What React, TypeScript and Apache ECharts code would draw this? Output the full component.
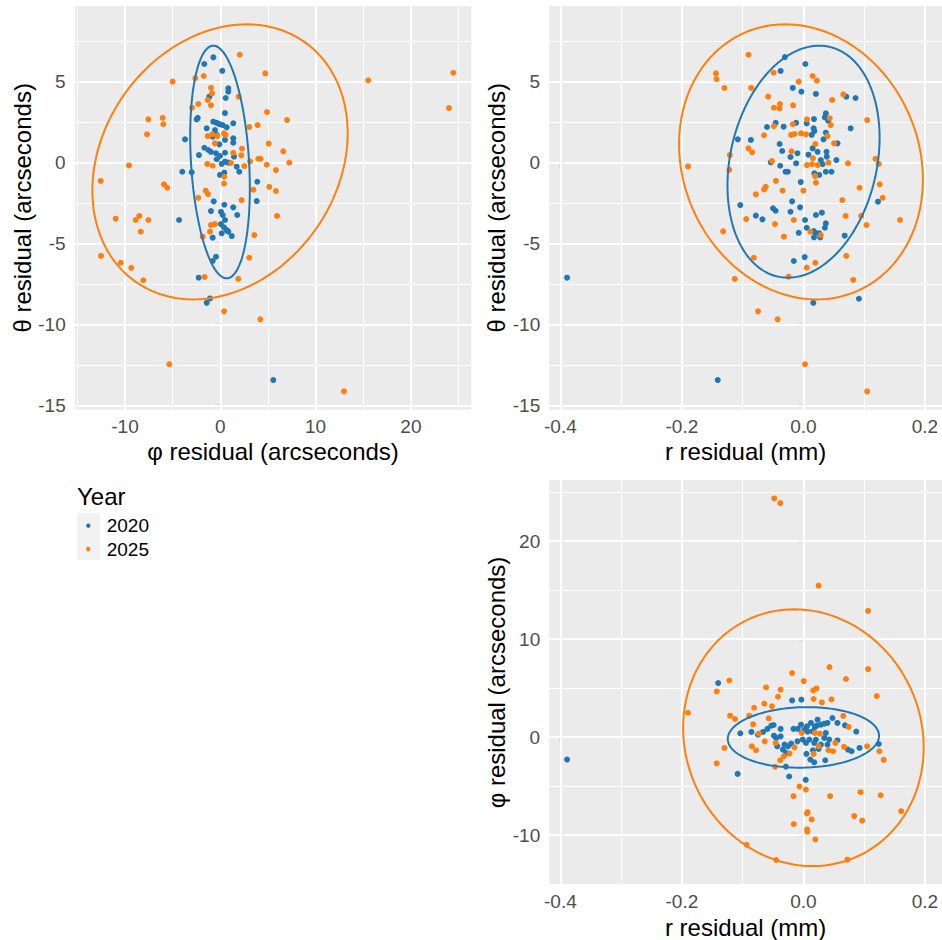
import React, { useEffect, useRef } from "react";
import * as echarts from "echarts";

// ---------- data ----------
// Panel A: x = φ residual (arcsec), y = θ residual (arcsec)
const phiTheta2020: [number, number][] = [
  [-0.73, 6.48], [-1.68, 6.07], [0.21, 5.65], [0.84, 4.57], [0.84, 4.36], [0.56, 3.97], [-1.15, 4.05],
  [0.49, 3.04], [-2.37, 2.75], [-2.48, 2.65], [-0.73, 2.51], [-0.38, 2.44], [-0.1, 2.36], [0.25, 2.3],
  [1.36, 2.41], [-1.43, 2.1], [-0.56, 1.99], [0.67, 2.16], [-0.8, 1.58], [-0.38, 1.69], [0.49, 1.38],
  [1.36, 1.48], [1.36, 1.21], [-0.1, 1.11], [-3.7, 1.42], [-1.68, 0.9], [-1.26, 0.76], [-0.98, 0.65],
  [-0.45, 0.56], [-0.03, 0.39], [0.49, 0.59], [1.44, 0.35], [0.84, -0.02], [-2.24, 0.45], [-0.38, 0.19],
  [0.15, -0.1], [0.49, 0.04], [1.72, -0.27], [1.99, -0.58], [-3.99, -0.58], [-3.0, -0.62], [-0.03, -0.78],
  [0.42, -0.64], [3.88, -1.2], [3.82, -2.39], [-0.69, -2.41], [0.42, -2.62], [1.36, -2.78], [-0.98, -3.01],
  [0.07, -3.05], [0.25, -3.25], [0.49, -3.56], [1.78, -3.25], [-4.33, -3.56], [0.07, -3.81], [0.39, -4.01],
  [0.67, -4.18], [0.15, -4.38], [0.84, -4.28], [1.2, -4.55], [-0.8, -4.65], [-0.45, -5.83], [-0.8, -6.09],
  [-2.27, -7.12], [-1.08, -8.4], [-1.43, -8.67], [5.56, -13.44],
];
const phiTheta2025: [number, number][] = [
  [2.04, 6.64], [4.72, 5.49], [-5.0, 4.98], [-2.62, 5.19], [-1.74, 5.33], [-0.98, 4.6], [-0.87, 4.26],
  [-1.32, 3.85], [1.93, 4.05], [-2.31, 3.6], [-0.98, 3.52], [-2.97, 3.37], [4.9, 3.1], [-7.55, 2.65],
  [-6.05, 2.75], [-5.98, 2.35], [-7.69, 1.73], [3.04, 2.18], [3.92, 2.3], [-1.32, 1.62], [-0.84, 1.73],
  [-0.31, 1.62], [0.39, 1.79], [0.56, 1.69], [-0.56, 1.17], [5.08, 1.15], [2.28, 0.84], [1.36, 0.59],
  [2.2, 0.43], [3.99, 0.22], [4.24, 0.22], [3.12, 0.06], [-1.36, -0.1], [-0.8, -0.21], [1.12, -0.04],
  [2.52, -0.23], [4.87, -0.15], [5.84, -0.48], [-9.58, -0.19], [-12.55, -1.15], [0.42, -0.89], [0.39, -1.32],
  [-5.91, -1.36], [-5.56, -1.57], [-1.53, -1.75], [-1.29, -1.96], [-2.31, -2.19], [3.46, -1.69], [5.14, -1.51],
  [5.84, -1.77], [2.24, -2.33], [-10.98, -3.48], [-8.88, -3.56], [-8.5, -3.31], [-7.55, -3.56], [-8.35, -4.28],
  [-0.98, -3.87], [-0.56, -3.81], [-1.08, -4.28], [-1.85, -4.59], [3.57, -4.49], [5.95, -3.31], [-12.52, -5.78],
  [-10.45, -6.2], [-9.34, -6.51], [-8.08, -7.28], [3.04, -5.89], [-1.64, -7.08], [1.89, -7.2], [0.39, -9.2],
  [4.2, -9.69], [-5.35, -12.47], [15.53, 5.06], [24.45, 5.53], [24.0, 3.35], [7.0, 2.61], [6.61, 0.68],
  [7.24, -0.02], [12.98, -14.14],
];

// Panel B: x = r residual (mm), y = θ residual (arcsec)
const rTheta2020: [number, number][] = [
  [-0.389, -7.12], [-0.0305, 6.5], [0.0033, 6.07], [-0.0375, 5.64], [-0.0175, 4.59], [-0.0033, 4.36],
  [0.0206, 4.22], [-0.0457, 2.44], [-0.0599, 2.18], [-0.0326, 2.2], [-0.012, 2.44], [0.0054, 2.41],
  [0.0174, 2.67], [0.0136, 1.69], [0.018, 1.93], [-0.108, 1.42], [-0.0865, 1.38], [-0.0392, 1.13],
  [-0.0098, 0.56], [-0.0212, 0.33], [-0.0349, 0.7], [0.0082, 0.47], [0.0152, 0.86], [-0.0538, 0.0],
  [-0.012, -0.06], [-0.0382, -0.21], [-0.0294, -0.58], [-0.0256, -0.58], [0.018, -0.68], [-0.0044, -1.22],
  [-0.104, -2.64], [-0.0186, -2.41], [-0.05, -2.84], [-0.0457, -2.99], [-0.0055, -2.78], [-0.0212, -3.05],
  [0.0206, -3.25], [-0.0783, -3.29], [-0.0675, -3.52], [0.0027, -3.56], [0.0054, -4.04], [0.0168, -4.24],
  [0.0196, -4.35], [0.0174, -4.63], [-0.0077, -4.35], [-0.0158, -6.09], [0.0021, -5.85], [0.0163, -8.67],
  [-0.141, -13.44], [0.0706, 4.05], [0.0858, 3.97], [0.0369, 3.02], [0.0353, 2.78], [0.0408, 2.57],
  [0.0168, 2.1], [0.0777, 2.1], [0.0369, 1.83], [0.0331, 1.42], [0.056, 1.17], [0.0233, 0.65], [0.038, 0.65],
  [0.0385, 0.35], [0.0287, 0.14], [0.0315, -0.12], [0.0543, 0.14], [0.0369, -0.58], [0.0462, -0.58],
  [0.026, -0.78], [0.1228, -2.43], [0.0304, -3.11], [0.0369, -3.77], [0.0353, -4.04], [0.026, -4.38],
  [0.0277, -4.63], [0.0679, -4.53], [0.0914, -8.42],
];
const rTheta2025: [number, number][] = [
  [-0.19, -0.25], [-0.0904, 6.64], [-0.144, 5.49], [-0.143, 5.14], [-0.13, 4.59], [-0.086, 4.59],
  [-0.049, 5.53], [-0.0077, 4.98], [0.0152, 5.33], [0.0222, 5.04], [-0.058, 4.05], [-0.0387, 3.6],
  [-0.0392, 3.33], [-0.0485, 3.37], [-0.017, 3.52], [0.0059, 2.65], [-0.0485, 2.24], [-0.0175, 2.35],
  [-0.0648, 1.67], [-0.0202, 1.69], [-0.0147, 1.75], [-0.0039, 1.79], [0.0043, 1.73], [0.0196, 1.13],
  [-0.0904, 0.86], [-0.0843, 0.62], [-0.121, 0.45], [-0.0196, 0.68], [0.0157, 0.25], [-0.122, -0.46],
  [-0.0517, 0.08], [0.0059, -0.17], [0.014, -0.12], [0.0206, -1.26], [-0.0452, -1.14], [-0.062, -1.51],
  [-0.0648, -1.67], [-0.0343, -1.75], [0.0, -1.75], [-0.0783, -1.98], [-0.0941, -3.5], [-0.132, -4.26],
  [-0.0468, -3.81], [-0.0158, -3.56], [-0.0321, -4.59], [0.0114, -4.28], [-0.0816, -5.89], [-0.113, -7.2],
  [-0.0245, -7.06], [0.0054, -6.5], [0.0196, -6.2], [-0.0746, -9.2], [-0.0424, -9.69], [0.0027, -12.47],
  [0.0657, 4.2], [0.0473, 3.85], [0.0434, 2.72], [0.045, 2.3], [0.105, 2.61], [0.0396, 1.62], [0.0506, 1.17],
  [0.0233, -0.17], [0.019, -0.85], [0.0413, -0.02], [0.0734, -0.06], [0.1185, 0.22], [0.124, -0.1],
  [0.0924, -1.57], [0.1256, -1.36], [0.1305, -2.19], [0.0641, -2.33], [0.0695, -3.31], [0.0951, -3.31],
  [0.1038, -3.87], [0.159, -3.56], [0.0287, -4.49], [0.0706, -5.78], [0.082, -7.26], [0.105, -14.14],
];

// Panel C: x = r residual (mm), y = φ residual (arcsec)
const rPhi2020: [number, number][] = [
  [-0.389, -2.28], [-0.1403, 5.53], [-0.1083, -3.74], [-0.1039, 0.4], [-0.0855, 0.54], [-0.0746, 0.26],
  [-0.0664, 0.54], [-0.0593, 0.85], [-0.0528, 1.18], [-0.049, 1.25], [-0.0485, 0.16], [-0.0447, -0.07],
  [-0.0375, 0.09], [-0.0375, 0.85], [-0.0431, -0.93], [-0.031, -0.75], [-0.0338, -1.26], [-0.0284, -1.6],
  [-0.0256, -0.93], [-0.0186, 3.76], [-0.0033, 3.83], [-0.0163, 0.85], [-0.0093, 0.85], [-0.0039, 1.28],
  [0.0016, 0.77], [0.0059, 1.11], [0.0124, 1.46], [0.007, 0.57], [-0.0098, -0.42], [-0.0011, -0.24],
  [0.0042, -0.58], [0.0179, -0.58], [0.0049, -1.7], [0.0157, -1.33], [0.0114, -2.28], [0.0179, -2.56],
  [-0.0289, -2.99], [-0.0235, -4.01], [0.0038, -4.35], [-0.0202, -0.65], [0.0233, 1.79], [0.0217, 1.18],
  [0.0287, 1.28], [0.019, 1.05], [0.0343, 1.38], [0.0396, 1.46], [0.0478, 1.96], [0.056, 1.46],
  [0.0685, 1.21], [0.087, 0.57], [0.0152, 0.6], [0.0369, 0.44], [0.0343, -0.07], [0.0098, -0.24],
  [0.0206, -0.24], [0.0287, -0.75], [0.0396, -0.75], [0.0424, -0.24], [0.056, -0.31], [0.025, -1.19],
  [0.0734, -1.26], [0.0793, -1.43], [0.0924, -1.09], [0.124, -0.69], [0.0359, -2.35],
];
const rPhi2025: [number, number][] = [
  [-0.048, 24.37], [-0.038, 23.89], [0.025, 15.47], [0.1065, 12.89], [-0.1219, 5.79], [-0.1426, 4.67],
  [-0.19, 2.5], [-0.1207, 2.2], [-0.1126, 1.86], [-0.13, -1.09], [-0.1426, -2.66], [-0.0615, 5.08],
  [-0.0375, 4.85], [-0.0419, 4.13], [-0.0517, 3.15], [-0.0643, 3.42], [-0.0811, 3.01], [-0.0892, 2.2],
  [-0.0827, 1.31], [-0.0571, 1.92], [-0.0734, 0.37], [-0.0848, -0.93], [-0.0778, -1.33], [-0.0636, -0.42],
  [-0.0186, 6.55], [0.0005, 5.73], [0.0163, 4.78], [0.0168, 3.9], [-0.0457, -0.58], [-0.0382, -2.35],
  [-0.0321, -1.95], [-0.0468, -3.02], [-0.0228, -1.67], [-0.0147, -1.03], [-0.0028, 0.44], [0.0168, -1.7],
  [-0.0065, -5.03], [0.0042, -5.34], [-0.0163, -6.02], [0.007, -7.65], [0.0059, -7.78], [0.0135, -8.39],
  [-0.0158, -8.87], [0.0059, -9.41], [0.0065, -9.64], [0.0196, -10.43], [-0.0936, -10.97], [-0.0447, -12.54],
  [0.0429, 7.16], [0.1065, 6.95], [0.0701, 5.94], [0.0217, 4.98], [0.0304, 3.55], [0.0462, 3.86],
  [0.1207, 4.2], [0.0657, 2.17], [0.0745, 1.05], [0.019, 0.44], [0.0271, 0.37], [0.025, -0.93],
  [0.0413, -1.33], [0.0489, -1.43], [0.0527, -0.58], [0.0669, -0.99], [0.1049, -0.93], [0.125, -1.43],
  [0.1321, -2.31], [0.044, -6.02], [0.094, -5.61], [0.1272, -5.92], [0.1609, -7.55], [0.0837, -8.05],
  [0.0967, -8.52], [0.0723, -12.5],
];

// 95% ellipses: [centerX, centerY, horizontal half-chord at centre, top-point offset x, top-point offset y]
const ellipsePhiTheta2020 = [-0.03, 0.02, 3.05, -0.7, 7.18];
const ellipsePhiTheta2025 = [-0.03, 0.03, 13.1, 2.8, 8.49];
const ellipseRTheta2020 = [0.0002, 0.04, 0.1225, 0.0258, 7.16];
const ellipseRTheta2025 = [-0.004, 0.03, 0.199, -0.0258, 8.49];
const ellipseRPhi2020 = [0.0, -0.02, 0.1243, 0.0064, 3.09];
const ellipseRPhi2025 = [0.0, -0.045, 0.1974, -0.015, 13.1];

// axis breaks and limits
const phiMajor = [-10, 0, 10, 20];
const phiMinor = [-15, -5, 5, 15, 25];
const thetaMajor = [-15, -10, -5, 0, 5];
const thetaMinor = [-12.5, -7.5, -2.5, 2.5, 7.5];
const rMajor = [-0.4, -0.2, 0, 0.2];
const rMinor = [-0.3, -0.1, 0.1];
const phiLimitsA = [-15.28, 26.34];
const thetaLimits = [-15.27, 9.65];
const rLimits = [-0.4184, 0.2281];
const phiLimitsC = [-15.08, 26.25];

const years = ["2020", "2025"];

// ---------- styling ----------
const BLUE = "#1F77B4";
const ORANGE = "#FF7F0E";
const FONT = "'Liberation Sans', Arial, Helvetica, sans-serif";

function ellipsePoints(p: number[]): [number, number][] {
  const [cx, cy, a, bx, by] = p;
  const pts: [number, number][] = [];
  const n = 160;
  for (let i = 0; i <= n; i++) {
    const t = (i / n) * Math.PI * 2;
    pts.push([cx + a * Math.cos(t) + bx * Math.sin(t), cy + by * Math.sin(t)]);
  }
  return pts;
}

function makeAxis(
  dim: "x" | "y",
  gridIndex: number,
  lim: number[],
  major: number[],
  name: string,
  fmt: (v: number) => string
) {
  return {
    type: "value",
    gridIndex,
    min: lim[0],
    max: lim[1],
    position: dim === "x" ? "bottom" : "left",
    axisLine: { show: false },
    axisTick: {
      show: true,
      length: 5,
      customValues: major,
      lineStyle: { color: "#333333", width: 1.2 },
    },
    axisLabel: {
      customValues: major,
      color: "#4D4D4D",
      fontSize: 19,
      fontFamily: FONT,
      margin: dim === "x" ? 7 : 9,
      formatter: (v: number) => fmt(v),
    },
    splitLine: { show: false },
    minorTick: { show: false },
    minorSplitLine: { show: false },
    name,
    nameLocation: "middle",
    nameGap: dim === "x" ? 42 : 51,
    nameTextStyle: { fontSize: 24, color: "#000000", fontFamily: FONT, verticalAlign: "middle" },
  };
}

function gridLineSeries(gi: number, xMajor: number[], xMinor: number[], yMajor: number[], yMinor: number[]) {
  const major = { color: "#FFFFFF", width: 2, type: "solid" };
  const minor = { color: "#FFFFFF", width: 1, type: "solid" };
  const data: any[] = [];
  xMinor.forEach((v) => data.push({ xAxis: v, lineStyle: minor }));
  yMinor.forEach((v) => data.push({ yAxis: v, lineStyle: minor }));
  xMajor.forEach((v) => data.push({ xAxis: v, lineStyle: major }));
  yMajor.forEach((v) => data.push({ yAxis: v, lineStyle: major }));
  return {
    type: "scatter",
    xAxisIndex: gi,
    yAxisIndex: gi,
    data: [],
    silent: true,
    z: 1,
    markLine: {
      z: 1,
      zlevel: 0,
      silent: true,
      symbol: ["none", "none"],
      label: { show: false },
      emphasis: { disabled: true },
      animation: false,
      data,
    },
  };
}

function pointSeries(gi: number, name: string, data: [number, number][], color: string) {
  return {
    type: "scatter",
    name,
    xAxisIndex: gi,
    yAxisIndex: gi,
    data,
    symbol: "circle",
    symbolSize: 6,
    itemStyle: { color, opacity: 1 },
    silent: true,
    z: 3,
  };
}

function ellipseSeries(gi: number, name: string, p: number[], color: string) {
  return {
    type: "line",
    name,
    xAxisIndex: gi,
    yAxisIndex: gi,
    data: ellipsePoints(p),
    showSymbol: false,
    symbol: "none",
    smooth: false,
    lineStyle: { color, width: 2 },
    silent: true,
    z: 4,
  };
}

const intFmt = (v: number) => String(Math.round(v));
const rFmt = (v: number) => (Math.abs(v) < 1e-9 ? "0.0" : v.toFixed(1));

const option: any = {
  animation: false,
  backgroundColor: "#FFFFFF",
  textStyle: { fontFamily: FONT },
  grid: [
    { left: 74.7, top: 6, width: 396.6, height: 403.7, show: true, backgroundColor: "#EBEBEB", borderWidth: 0 },
    { left: 549.2, top: 6, width: 396.3, height: 403.7, show: true, backgroundColor: "#EBEBEB", borderWidth: 0 },
    { left: 549.2, top: 480, width: 396.3, height: 405, show: true, backgroundColor: "#EBEBEB", borderWidth: 0 },
  ],
  xAxis: [
    makeAxis("x", 0, phiLimitsA, phiMajor, "φ residual (arcseconds)", intFmt),
    makeAxis("x", 1, rLimits, rMajor, "r residual (mm)", rFmt),
    makeAxis("x", 2, rLimits, rMajor, "r residual (mm)", rFmt),
  ],
  yAxis: [
    makeAxis("y", 0, thetaLimits, thetaMajor, "θ residual (arcseconds)", intFmt),
    makeAxis("y", 1, thetaLimits, thetaMajor, "θ residual (arcseconds)", intFmt),
    makeAxis("y", 2, phiLimitsC, phiMajor, "φ residual (arcseconds)", intFmt),
  ],
  series: [
    gridLineSeries(0, phiMajor, phiMinor, thetaMajor, thetaMinor),
    gridLineSeries(1, rMajor, rMinor, thetaMajor, thetaMinor),
    gridLineSeries(2, rMajor, rMinor, phiMajor, phiMinor),
    pointSeries(0, years[0], phiTheta2020, BLUE),
    pointSeries(0, years[1], phiTheta2025, ORANGE),
    pointSeries(1, years[0], rTheta2020, BLUE),
    pointSeries(1, years[1], rTheta2025, ORANGE),
    pointSeries(2, years[0], rPhi2020, BLUE),
    pointSeries(2, years[1], rPhi2025, ORANGE),
    ellipseSeries(0, years[0], ellipsePhiTheta2020, BLUE),
    ellipseSeries(0, years[1], ellipsePhiTheta2025, ORANGE),
    ellipseSeries(1, years[0], ellipseRTheta2020, BLUE),
    ellipseSeries(1, years[1], ellipseRTheta2025, ORANGE),
    ellipseSeries(2, years[0], ellipseRPhi2020, BLUE),
    ellipseSeries(2, years[1], ellipseRPhi2025, ORANGE),
  ],
  graphic: [
    {
      type: "text",
      left: 77,
      top: 484,
      style: { text: "Year", fontSize: 24, fill: "#000000", fontFamily: FONT },
    },
    { type: "rect", shape: { x: 76.7, y: 513, width: 23.3, height: 46.7 }, style: { fill: "#F2F2F2" } },
    { type: "circle", shape: { cx: 88.3, cy: 525.7, r: 2.2 }, style: { fill: BLUE } },
    { type: "circle", shape: { cx: 88.3, cy: 549, r: 2.2 }, style: { fill: ORANGE } },
    {
      type: "text",
      x: 106.7,
      y: 525.7,
      style: { text: years[0], fontSize: 19, fill: "#000000", fontFamily: FONT, verticalAlign: "middle" },
    },
    {
      type: "text",
      x: 106.7,
      y: 549,
      style: { text: years[1], fontSize: 19, fill: "#000000", fontFamily: FONT, verticalAlign: "middle" },
    },
  ],
};

export default function App() {
  const ref = useRef<HTMLDivElement>(null);
  useEffect(() => {
    if (!ref.current) return;
    const chart = echarts.init(ref.current, null, { renderer: "svg" });
    chart.setOption(option);
    return () => {
      chart.dispose();
    };
  }, []);
  return <div ref={ref} style={{ position: "absolute", left: 0, top: 0, width: 942, height: 940 }} />;
}
